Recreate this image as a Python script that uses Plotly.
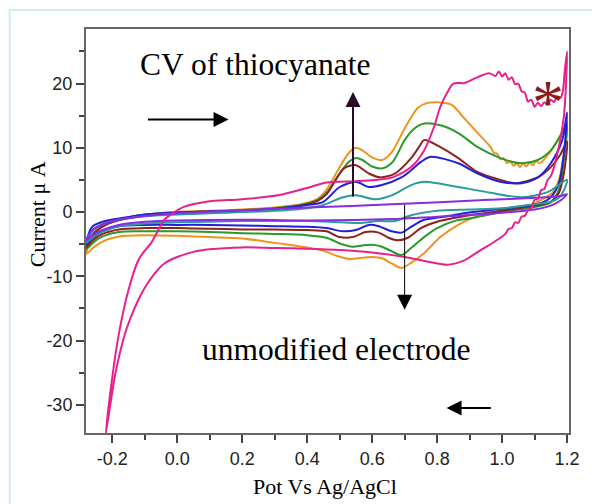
import plotly.graph_objects as go

# ---------------- data ----------------
orange_fwd_x = [-0.28,-0.265,-0.25,-0.22,-0.18,-0.13,-0.08,0.0,0.1,0.2,0.3,0.38,0.43,0.46,0.5,0.53,0.55,0.57,0.6,0.63,0.66,0.70,0.74,0.77,0.80,0.845,0.88,0.925,
                0.965,0.975,0.985,0.995,1.005,1.015,1.025,1.035,1.045,1.055,1.065,1.075,1.085,1.095,1.105,1.115,1.15,1.18,1.2]
orange_fwd_y = [-6.5,-4.0,-3.0,-1.9,-1.2,-0.6,-0.3,0.0,0.2,0.4,0.7,1.2,2.0,3.5,7.0,9.3,10.0,9.6,8.5,8.1,9.3,13.0,16.2,17.0,17.1,16.7,14.8,12.3,
                10.1,9.2,9.1,8.2,8.4,7.6,7.9,7.2,7.6,7.0,7.6,7.1,7.7,7.3,8.0,7.6,9.5,12.0,14.0]
orange_rev_x = [1.2,1.19,1.175,1.155,1.12,1.08,1.0,0.96,0.91,0.865,0.81,0.76,0.72,0.69,0.66,0.63,0.6,0.57,0.53,0.49,0.46,0.4,0.3,0.2,0.1,0.0,-0.1,-0.18,-0.23,-0.26,-0.28]
orange_rev_y = [14.0,9.0,5.0,3.0,1.9,0.8,0.2,-0.2,-0.9,-2.0,-3.9,-6.4,-7.9,-8.7,-8.0,-7.2,-7.0,-7.1,-7.3,-6.8,-6.2,-5.5,-4.8,-4.1,-3.9,-3.7,-3.6,-3.8,-4.6,-5.6,-6.5]

green_fwd_x = [-0.28,-0.265,-0.25,-0.22,-0.18,-0.13,-0.08,0.0,0.1,0.2,0.3,0.38,0.43,0.46,0.5,0.53,0.55,0.57,0.6,0.63,0.663,0.70,0.73,0.76,0.81,0.865,0.925,0.995,1.06,1.11,1.15,1.185,1.2]
green_fwd_y = [-5.8,-3.9,-3.0,-1.9,-1.2,-0.6,-0.3,0.0,0.1,0.3,0.6,1.1,1.8,3.0,6.0,7.9,8.4,8.1,7.1,6.8,7.8,11.2,13.0,13.8,13.5,12.3,10.1,8.4,7.6,8.1,9.6,12.3,13.5]
green_rev_x = [1.2,1.19,1.175,1.15,1.1,1.0,0.9,0.86,0.8,0.76,0.72,0.69,0.66,0.63,0.6,0.57,0.54,0.5,0.46,0.4,0.3,0.2,0.1,0.0,-0.1,-0.18,-0.23,-0.26,-0.28]
green_rev_y = [13.5,8.0,3.5,1.5,0.8,0.0,-1.0,-1.3,-2.5,-3.9,-5.6,-6.7,-6.1,-5.4,-5.1,-5.2,-5.4,-4.9,-4.0,-3.6,-3.4,-3.3,-3.1,-3.0,-3.0,-3.1,-3.8,-4.8,-5.8]

brown_fwd_x = [-0.28,-0.265,-0.25,-0.22,-0.18,-0.13,-0.08,0.0,0.1,0.2,0.3,0.38,0.43,0.46,0.513,0.55,0.59,0.625,0.67,0.72,0.744,0.76,0.81,0.865,0.925,0.995,1.04,1.11,1.15,1.18,1.2]
brown_fwd_y = [-5.5,-3.8,-3.0,-2.0,-1.3,-0.7,-0.4,-0.1,0.1,0.2,0.5,1.0,1.7,2.8,6.8,7.3,6.0,5.4,6.0,8.4,10.1,11.2,10.1,8.4,6.2,5.0,4.5,5.4,7.0,9.0,11.0]
brown_rev_x = [1.2,1.19,1.175,1.15,1.1,1.0,0.9,0.8,0.75,0.71,0.68,0.65,0.62,0.58,0.54,0.5,0.46,0.4,0.3,0.2,0.1,0.0,-0.1,-0.18,-0.23,-0.26,-0.28]
brown_rev_y = [11.0,6.0,3.0,1.6,1.0,0.2,-0.5,-1.5,-2.5,-4.0,-4.4,-4.0,-3.2,-3.1,-3.9,-3.9,-3.0,-2.8,-2.7,-2.7,-2.6,-2.5,-2.5,-2.7,-3.4,-4.4,-5.5]

blue_fwd_x = [-0.28,-0.27,-0.26,-0.23,-0.18,-0.13,-0.08,0.0,0.1,0.2,0.3,0.4,0.45,0.5,0.55,0.59,0.63,0.69,0.72,0.75,0.78,0.865,0.925,0.995,1.06,1.11,1.15,1.185,1.2]
blue_fwd_y = [-5.0,-3.0,-2.2,-1.5,-1.0,-0.6,-0.3,-0.1,0.1,0.2,0.5,1.1,1.6,3.9,4.7,3.9,4.2,5.4,6.5,7.8,8.6,7.6,6.0,4.7,4.5,5.4,7.6,11.2,15.5]
blue_rev_x = [1.2,1.19,1.175,1.15,1.12,1.0,0.91,0.81,0.76,0.72,0.69,0.66,0.62,0.59,0.55,0.51,0.46,0.4,0.3,0.2,0.1,0.0,-0.1,-0.18,-0.23,-0.26,-0.28]
blue_rev_y = [15.5,9.0,4.5,2.3,1.4,0.5,0.0,-0.8,-1.2,-2.3,-3.2,-3.0,-2.2,-2.0,-2.8,-3.0,-2.5,-2.3,-2.2,-2.1,-2.0,-2.0,-2.0,-2.2,-3.0,-4.0,-5.0]

teal_fwd_x = [-0.28,-0.265,-0.25,-0.22,-0.18,-0.13,-0.08,0.0,0.1,0.2,0.3,0.4,0.45,0.51,0.55,0.61,0.66,0.72,0.76,0.865,0.965,1.06,1.14,1.2]
teal_fwd_y = [-4.8,-3.2,-2.5,-1.7,-1.2,-0.8,-0.6,-0.4,-0.2,0.0,0.2,0.6,1.1,2.3,2.6,2.0,2.6,4.2,4.7,3.9,3.0,2.3,3.1,5.0]
teal_rev_x = [1.2,1.18,1.15,1.1,1.0,0.9,0.8,0.72,0.67,0.62,0.56,0.5,0.4,0.3,0.2,0.1,0.0,-0.1,-0.18,-0.23,-0.26,-0.28]
teal_rev_y = [5.0,2.5,1.6,1.2,0.6,0.4,0.2,-0.5,-1.4,-1.4,-1.7,-1.6,-1.4,-1.4,-1.4,-1.5,-1.6,-1.8,-2.2,-3.0,-3.9,-4.8]

purple_fwd_x = [-0.28,-0.265,-0.25,-0.22,-0.18,-0.13,-0.08,0.0,0.2,0.4,0.66,0.96,1.18,1.2]
purple_fwd_y = [-4.4,-3.0,-2.4,-1.7,-1.2,-0.8,-0.5,-0.2,0.3,0.7,1.2,1.9,2.5,2.8]
purple_rev_x = [1.2,1.18,1.15,1.1,1.0,0.85,0.66,0.4,0.2,0.0,-0.1,-0.18,-0.23,-0.26,-0.28]
purple_rev_y = [2.8,1.8,1.0,0.4,-0.1,-0.6,-1.1,-1.3,-1.2,-1.3,-1.5,-2.0,-2.8,-3.6,-4.4]

pink_fwd_x = [-0.22,-0.2,-0.18,-0.15,-0.12,-0.1,-0.08,-0.04,-0.02,0.02,0.09,0.2,0.31,0.41,0.46,0.55,0.61,0.663,0.72,0.76,0.79,0.81,0.83,0.85,0.885,0.92,0.96,
              0.98,0.99,1.0,1.01,1.02,1.03,1.04,1.05,1.06,1.07,1.08,1.09,1.1,1.11,1.12,1.13,1.14,1.15,1.16,1.17,1.18,1.187,1.193,1.2]
pink_fwd_y = [-34.5,-25.7,-19.0,-12.1,-7.5,-6.0,-4.8,-1.2,-0.4,0.8,1.6,2.0,2.6,3.9,4.6,4.8,5.0,5.4,7.0,9.6,13.2,16.4,18.5,20.0,20.1,20.9,21.6,
              21.2,21.9,21.1,21.6,20.6,21.0,19.9,20.0,18.8,18.6,17.2,17.5,16.4,17.0,16.5,17.1,16.7,17.5,17.1,18.0,17.8,18.8,22.0,25.0]
pink_rev_x = [1.2,1.19,1.165,1.15,1.14,1.13,1.12,1.11,1.1,1.09,1.08,1.07,1.06,1.05,1.04,1.03,1.02,1.01,0.98,0.935,0.88,0.83,0.78,0.7,0.6,0.5,0.4,0.3,0.2,0.1,0.05,0.0,-0.04,-0.07,-0.1,-0.12,-0.14,-0.16,-0.19,-0.22]
pink_rev_y = [25.0,14.8,8.0,5.6,5.0,3.6,3.4,2.0,1.9,0.6,0.3,-0.6,-0.7,-1.7,-1.6,-2.5,-2.6,-3.4,-4.5,-5.9,-7.6,-8.2,-7.8,-7.0,-6.3,-5.9,-5.7,-5.6,-5.5,-5.8,-6.2,-7.0,-8.0,-9.6,-11.8,-13.7,-16.0,-18.8,-25.0,-34.5]

x_tick_vals = [-0.2, 0.0, 0.2, 0.4, 0.6, 0.8, 1.0, 1.2]
x_tick_text = ["-0.2", "0.0", "0.2", "0.4", "0.6", "0.8", "1.0", "1.2"]
y_tick_vals = [-30, -20, -10, 0, 10, 20]
y_tick_text = ["-30", "-20", "-10", "0", "10", "20"]

series = [
    ("orange", "#f0921e", orange_fwd_x, orange_fwd_y, orange_rev_x, orange_rev_y),
    ("green", "#2a9a2a", green_fwd_x, green_fwd_y, green_rev_x, green_rev_y),
    ("brown", "#8c2323", brown_fwd_x, brown_fwd_y, brown_rev_x, brown_rev_y),
    ("blue", "#2020d8", blue_fwd_x, blue_fwd_y, blue_rev_x, blue_rev_y),
    ("teal", "#2a9c9a", teal_fwd_x, teal_fwd_y, teal_rev_x, teal_rev_y),
    ("purple", "#8a2be2", purple_fwd_x, purple_fwd_y, purple_rev_x, purple_rev_y),
    ("pink", "#e8208c", pink_fwd_x, pink_fwd_y, pink_rev_x, pink_rev_y),
]

fig = go.Figure()
for name, color, fx, fy, rx, ry in series:
    fig.add_trace(go.Scatter(
        x=fx + rx[1:], y=fy + ry[1:], mode="lines", name=name,
        line=dict(color=color, width=2, shape="spline", smoothing=0.8),
        showlegend=False, hoverinfo="skip"))

serif = "Liberation Serif, Times New Roman, serif"
sans = "Liberation Sans, Arial, sans-serif"

fig.update_layout(
    width=592, height=504,
    margin=dict(l=86, r=12, t=29, b=71),
    paper_bgcolor="white", plot_bgcolor="white",
    xaxis=dict(range=[-0.281, 1.206], tickvals=x_tick_vals, ticktext=x_tick_text,
               ticks="outside", ticklen=8, tickwidth=1.5, tickcolor="#444",
               minor=dict(dtick=0.1, tick0=0, ticks="outside", ticklen=5, tickwidth=1.5, tickcolor="#444"),
               showgrid=False, zeroline=False, showline=True, linecolor="#666", linewidth=2, mirror=True,
               tickfont=dict(family=sans, size=18, color="#222")),
    yaxis=dict(range=[-34.4, 28.5], tickvals=y_tick_vals, ticktext=y_tick_text,
               ticks="outside", ticklen=8, tickwidth=1.5, tickcolor="#444",
               minor=dict(dtick=5, tick0=0, ticks="outside", ticklen=5, tickwidth=1.5, tickcolor="#444"),
               showgrid=False, zeroline=False, showline=True, linecolor="#666", linewidth=2, mirror=True,
               tickfont=dict(family=sans, size=18, color="#222")),
)

# light-blue page frame
fig.add_shape(type="rect", xref="paper", yref="paper", x0=-0.158, y0=-0.4, x1=1.3, y1=1.047,
              line=dict(color="#cfe9f6", width=2), fillcolor="rgba(0,0,0,0)", layer="below")

anns = []
# axis titles
anns.append(dict(text="Current \u03bc A", xref="paper", yref="paper", x=-0.101, y=0.542,
                 textangle=-90, showarrow=False, font=dict(family=serif, size=22, color="black"),
                 xanchor="center", yanchor="middle"))
anns.append(dict(text="Pot Vs Ag/AgCl", xref="paper", yref="paper", x=0.494, y=-0.133,
                 showarrow=False, font=dict(family=serif, size=22, color="black"),
                 xanchor="center", yanchor="middle"))
# big labels
anns.append(dict(text="CV of thiocyanate", xref="paper", yref="paper", x=0.349, y=0.912,
                 showarrow=False, font=dict(family=serif, size=31.5, color="black"),
                 xanchor="center", yanchor="middle"))
anns.append(dict(text="unmodified electrode", xref="paper", yref="paper", x=0.518, y=0.207,
                 showarrow=False, font=dict(family=serif, size=31.5, color="black"),
                 xanchor="center", yanchor="middle"))
# asterisk
anns.append(dict(text="*", xref="x", yref="y", x=1.105, y=18.5, showarrow=False,
                 font=dict(family=serif, size=64, color="#8b1a1a"),
                 xanchor="center", yanchor="middle", yshift=-9, xshift=12))
# arrows
def arrow(x0, y0, x1, y1, width, size, color="black"):
    return dict(x=x1, y=y1, ax=x0, ay=y0, xref="x", yref="y", axref="x", ayref="y",
                text="", showarrow=True, arrowhead=2, arrowsize=size, arrowwidth=width,
                arrowcolor=color, standoff=0, startstandoff=0)
anns.append(arrow(-0.095, 14.4, 0.158, 14.4, 2, 1.5))
anns.append(arrow(0.970, -30.5, 0.829, -30.5, 2, 1.5))
anns.append(arrow(0.541, 2.2, 0.541, 18.7, 2, 1.5, "#2a0a28"))
anns.append(arrow(0.700, 1.4, 0.700, -15.2, 1, 3))
fig.update_layout(annotations=anns)

fig.write_html("out.html")
